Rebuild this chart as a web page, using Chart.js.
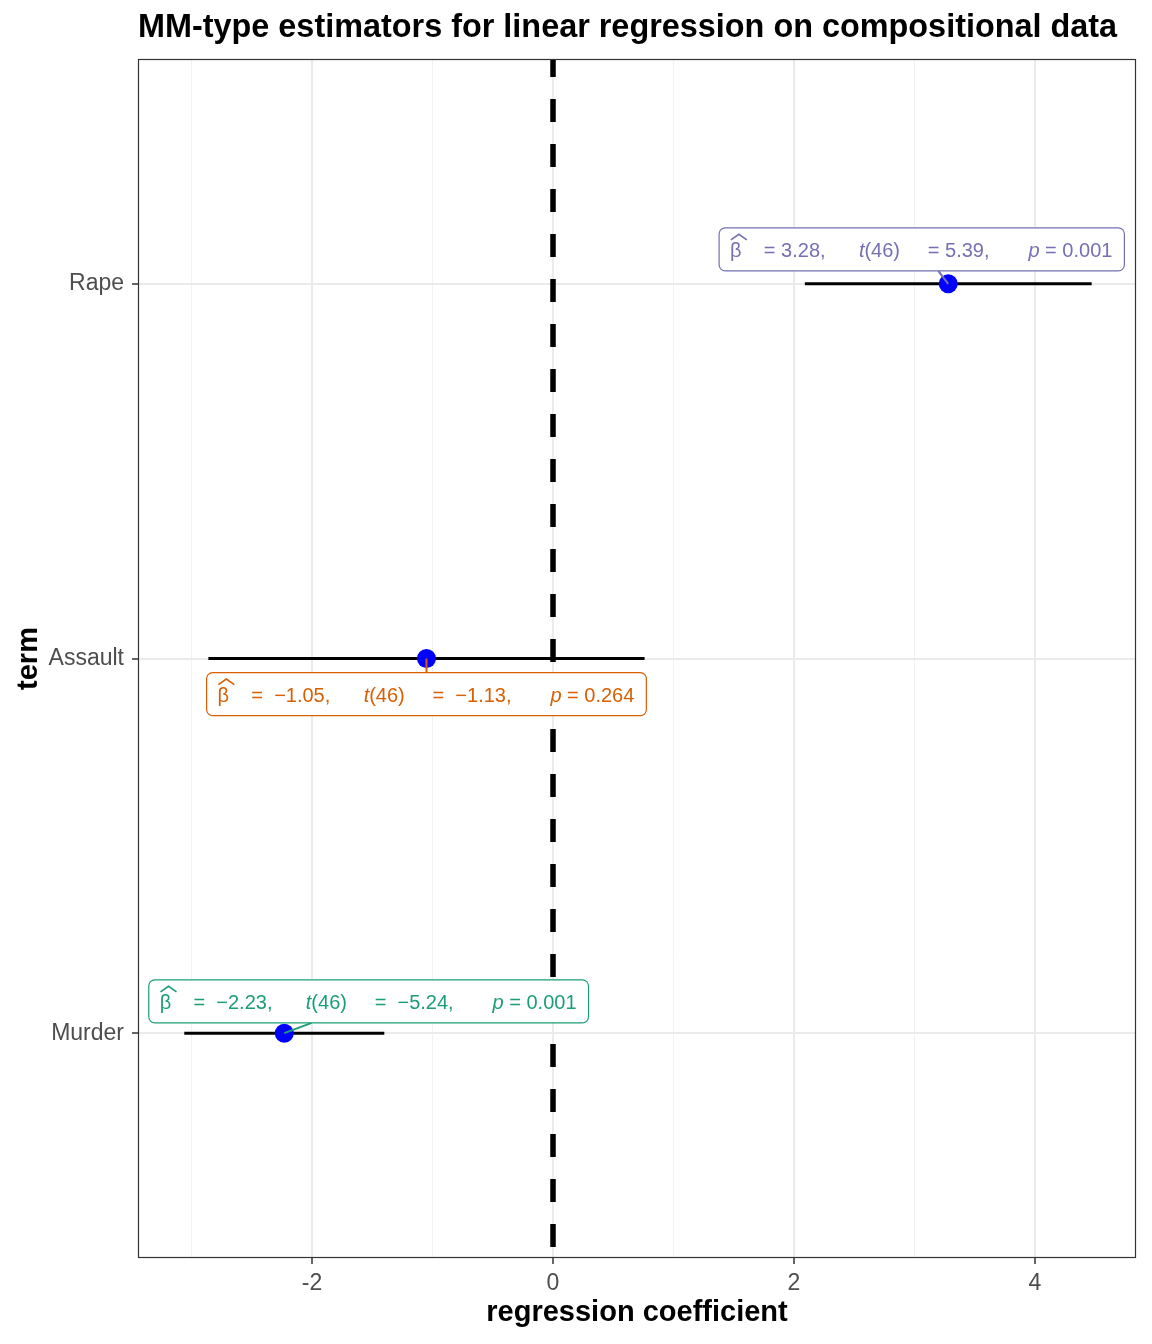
<!DOCTYPE html>
<html>
<head>
<meta charset="utf-8">
<script src="https://cdn.jsdelivr.net/npm/chart.js@4.4.0/dist/chart.umd.min.js"></script>
<style>
  html, body { margin: 0; padding: 0; background: #ffffff; }
  #wrap { width: 1152px; height: 1344px; position: relative; }
</style>
</head>
<body>
<div id="wrap"><canvas id="c" width="1152" height="1344"></canvas></div>
<script>
// ---------- data ----------
const terms      = ['Murder', 'Assault', 'Rape'];      // y positions 1,2,3
const estimates  = [-2.23, -1.05, 3.28];
const ciLow      = [-3.06, -2.86, 2.09];
const ciHigh     = [-1.40, 0.76, 4.47];
const tValues    = [-5.24, -1.13, 5.39];
const pValues    = ['0.001', '0.264', '0.001'];
const dfValue    = 46;
const labelColors = ['#1B9E77', '#D95F02', '#7570B3'];
const labelX     = [-1.53, -1.05, 3.06];
const labelY     = [1.085, 1.905, 3.092];
const xTicks     = [-3, -2, -1, 0, 1, 2, 3, 4];
const zeroLine   = 0;
const xRange     = [-3.444, 4.838];
const yRange     = [0.4, 3.6];

const FONT = '"Liberation Sans", Arial, Helvetica, sans-serif';

function fmt(v) {
  const s = Math.abs(v).toFixed(2);
  return v < 0 ? ' \u2212' + s : s;
}

// ---------- datasets ----------
const datasets = [];
datasets.push({
  type: 'line',
  data: [{x: zeroLine, y: yRange[0]}, {x: zeroLine, y: yRange[1]}],
  borderColor: '#000000', borderWidth: 5.5, borderDash: [23, 22], borderDashOffset: 34,
  borderCapStyle: 'butt',
  pointRadius: 0, fill: false, order: 3
});
terms.forEach((t, i) => {
  datasets.push({
    type: 'line',
    data: [{x: ciLow[i], y: i + 1}, {x: ciHigh[i], y: i + 1}],
    borderColor: '#000000', borderWidth: 3,
    pointRadius: 0, fill: false, order: 2
  });
});
datasets.push({
  type: 'scatter',
  data: estimates.map((e, i) => ({x: e, y: i + 1})),
  backgroundColor: '#0000FF', borderWidth: 0,
  pointRadius: 9.5, pointHoverRadius: 9.5, order: 1
});

// ---------- custom drawing ----------
const decor = {
  id: 'decor',
  afterDatasetsDraw(chart) {
    const ctx = chart.ctx;
    const xs = chart.scales.x, ys = chart.scales.y;
    ctx.save();
    terms.forEach((t, i) => {
      const runs = [
        {s: '\u03B2', it: false, hat: true},
        {s: '    = ' + fmt(estimates[i]) + ',      ', it: false},
        {s: 't', it: true},
        {s: '(' + dfValue + ')     = ' + fmt(tValues[i]) + ',       ', it: false},
        {s: 'p', it: true},
        {s: ' = ' + pValues[i], it: false}
      ];
      const fs = 20;
      let w = 0;
      runs.forEach(r => {
        ctx.font = (r.it ? 'italic ' : '') + fs + 'px ' + FONT;
        r.w = ctx.measureText(r.s).width;
        w += r.w;
      });
      const padL = 11, padR = 12, boxH = 43;
      const bw = w + padL + padR;
      const cx = xs.getPixelForValue(labelX[i]);
      const cy = ys.getPixelForValue(labelY[i]);
      const px = xs.getPixelForValue(estimates[i]);
      const py = ys.getPixelForValue(i + 1);
      const bx = cx - bw / 2, by = cy - boxH / 2;
      // segment from point to box edge
      const dx = cx - px, dy = cy - py;
      let tEdge = 1;
      if (dy !== 0) {
        const edgeY = dy < 0 ? by + boxH : by;
        tEdge = Math.min(tEdge, (edgeY - py) / dy);
      }
      if (dx !== 0) {
        const edgeX = dx < 0 ? bx + bw : bx;
        const tx = (edgeX - px) / dx;
        if (tx > 0) tEdge = Math.min(tEdge, tx);
      }
      ctx.strokeStyle = labelColors[i];
      ctx.lineWidth = 2;
      ctx.beginPath();
      ctx.moveTo(px, py);
      ctx.lineTo(px + dx * tEdge, py + dy * tEdge);
      ctx.stroke();
      // box
      ctx.beginPath();
      ctx.roundRect(bx, by, bw, boxH, 6);
      ctx.fillStyle = '#ffffff';
      ctx.fill();
      ctx.lineWidth = 1.2;
      ctx.strokeStyle = labelColors[i];
      ctx.stroke();
      // text
      ctx.fillStyle = labelColors[i];
      ctx.textBaseline = 'middle';
      ctx.textAlign = 'left';
      let x = bx + padL;
      runs.forEach(r => {
        ctx.font = (r.it ? 'italic ' : '') + fs + 'px ' + FONT;
        ctx.fillText(r.s, x, cy + 2);
        if (r.hat) {
          const hc = x + r.w / 2 + 3;
          ctx.beginPath();
          ctx.lineWidth = 1.6;
          ctx.strokeStyle = labelColors[i];
          ctx.moveTo(hc - 8, by + 12);
          ctx.lineTo(hc, by + 6.5);
          ctx.lineTo(hc + 8, by + 12);
          ctx.stroke();
        }
        x += r.w;
      });
    });
    ctx.restore();
  },
  afterDraw(chart) {
    const ctx = chart.ctx;
    const a = chart.chartArea;
    ctx.save();
    ctx.strokeStyle = '#333333';
    ctx.lineWidth = 1.2;
    ctx.strokeRect(a.left + 0.5, a.top + 0.5, a.right - a.left - 1, a.bottom - a.top - 1);
    // title
    ctx.fillStyle = '#000000';
    ctx.font = 'bold 32.4px ' + FONT;
    ctx.textAlign = 'left';
    ctx.textBaseline = 'middle';
    ctx.fillText('MM-type estimators for linear regression on compositional data', a.left, 28);
    // axis titles
    ctx.font = 'bold 29px ' + FONT;
    ctx.textAlign = 'center';
    ctx.fillText('regression coefficient', (a.left + a.right) / 2, 1313);
    ctx.translate(29, (a.top + a.bottom) / 2);
    ctx.rotate(-Math.PI / 2);
    ctx.fillText('term', 0, 0);
    ctx.restore();
  }
};

new Chart(document.getElementById('c'), {
  data: { datasets },
  plugins: [decor],
  options: {
    responsive: false,
    animation: false,
    events: [],
    layout: { padding: { top: 59, right: 16, left: 0, bottom: 0 } },
    plugins: { legend: { display: false }, tooltip: { enabled: false }, title: { display: false } },
    scales: {
      x: {
        type: 'linear',
        min: xRange[0], max: xRange[1],
        afterBuildTicks(s) { s.ticks = xTicks.map(v => ({value: v})); },
        afterFit(s) { s.height = 86; },
        border: { display: false },
        grid: {
          color: ctx => (ctx.tick && ctx.tick.value % 2 === 0) ? '#EBEBEB' : '#F2F2F2',
          lineWidth: ctx => (ctx.tick && ctx.tick.value % 2 === 0) ? 2 : 1,
          tickColor: ctx => (ctx.tick && ctx.tick.value % 2 === 0) ? '#333333' : 'rgba(0,0,0,0)',
          tickLength: 6,
          tickWidth: 1.5
        },
        ticks: {
          color: '#4D4D4D',
          font: { family: FONT, size: 23 },
          padding: 6,
          maxRotation: 0,
          autoSkip: false,
          callback: v => (v % 2 === 0 ? String(v) : '')
        }
      },
      y: {
        type: 'linear',
        min: yRange[0], max: yRange[1],
        afterBuildTicks(s) { s.ticks = terms.map((t, i) => ({value: i + 1})); },
        afterFit(s) { s.width = 138; },
        border: { display: false },
        grid: {
          color: '#EBEBEB', lineWidth: 2,
          tickColor: '#333333', tickLength: 6, tickWidth: 1.5
        },
        ticks: {
          color: '#4D4D4D',
          font: { family: FONT, size: 23 },
          padding: 8,
          autoSkip: false,
          callback: v => terms[v - 1] || ''
        }
      }
    }
  }
});
</script>
</body>
</html>
